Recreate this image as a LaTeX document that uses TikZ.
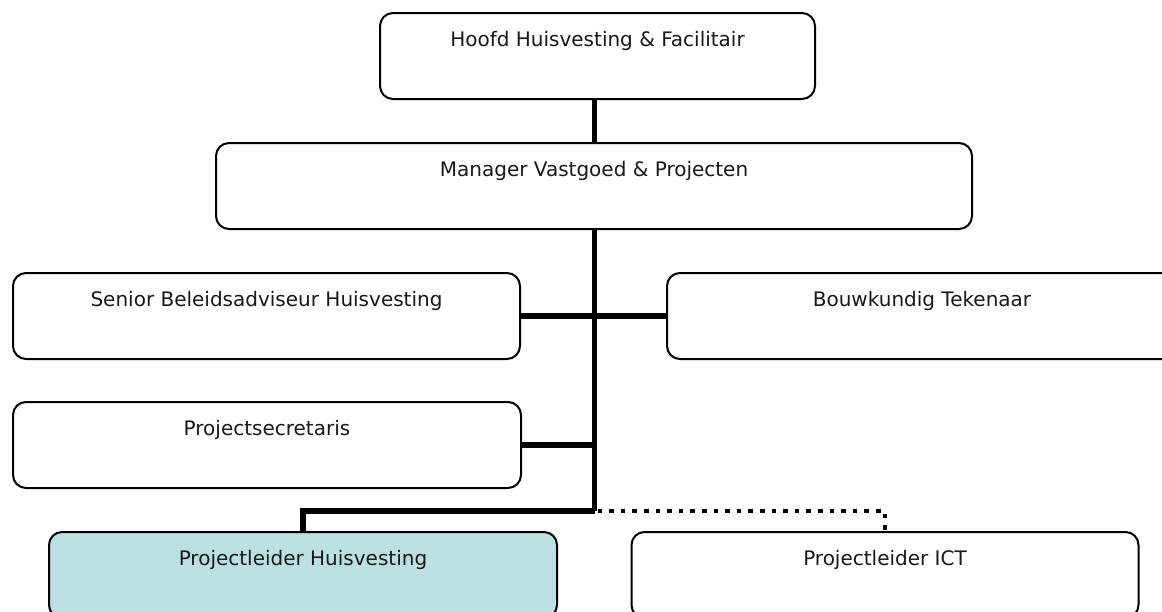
\documentclass[tikz,border=0pt]{standalone}
\usepackage{fontspec}
\setmainfont{DejaVu Sans}
\begin{document}
\begin{tikzpicture}[x=1pt,y=-1pt,
  box/.style={draw=black, line width=2pt, rounded corners=13pt, fill=white, inner sep=0pt},
  hibox/.style={box, fill=hlblue},
  lbl/.style={anchor=base, inner sep=0pt, text=txtgray, font=\fontsize{20}{24}\selectfont},
  conn/.style={line width=5.3pt, draw=black},
  dotconn/.style={line width=4.6pt, draw=black, dash pattern=on 4.6pt off 7pt}
]
\definecolor{hlblue}{RGB}{186,224,227}
\definecolor{txtgray}{RGB}{25,25,25}
\useasboundingbox (0,0) rectangle (1162,611);
\clip (0,0) rectangle (1162,611);
\fill[white] (0,0) rectangle (1162,611);

% trunk x coordinate
\coordinate (tr) at (594.5,0);
\coordinate (jn) at (594.5,511);

% boxes
\node[box, minimum width=435pt, minimum height=86pt] (top) at (597.5,56) {};
\node[box, minimum width=756pt, minimum height=86pt] (mgr) at (594,186) {};
\node[box, minimum width=507pt, minimum height=86pt] (sen) at (266.5,316) {};
\node[box, minimum width=510pt, minimum height=86pt] (bouw) at (922,316) {};
\node[box, minimum width=508pt, minimum height=86pt] (psec) at (267,445) {};
\node[hibox, minimum width=508pt, minimum height=86pt] (plh) at (303,575) {};
\node[box, minimum width=507pt, minimum height=86pt] (plict) at (885,575) {};

% texts
\node[lbl] (topT) at ([yshift=-34pt]top.north) {Hoofd Huisvesting \& Facilitair};
\node[lbl] (mgrT) at ([yshift=-34pt]mgr.north) {Manager Vastgoed \& Projecten};
\node[lbl] (senT) at ([yshift=-34pt]sen.north) {Senior Beleidsadviseur Huisvesting};
\node[lbl] (bouwT) at ([yshift=-34pt]bouw.north) {Bouwkundig Tekenaar};
\node[lbl] (psecT) at ([yshift=-34pt]psec.north) {Projectsecretaris};
\node[lbl] (plhT) at ([yshift=-34pt]plh.north) {Projectleider Huisvesting};
\node[lbl] (plictT) at ([yshift=-34pt]plict.north) {Projectleider ICT};

% connectors
\draw[conn] (top.south -| tr) -- (mgr.north -| tr);
\draw[conn] (mgr.south -| tr) -- (jn);
\draw[conn] (sen.east) -- (bouw.west);
\draw[conn] (psec.east) -- (psec.east -| tr);
\draw[conn] (jn) -- (jn -| plh.north) -- (plh.north);
\draw[dotconn] ([xshift=3pt]jn) -- (jn -| plict.north) -- (plict.north);
\end{tikzpicture}
\end{document}
